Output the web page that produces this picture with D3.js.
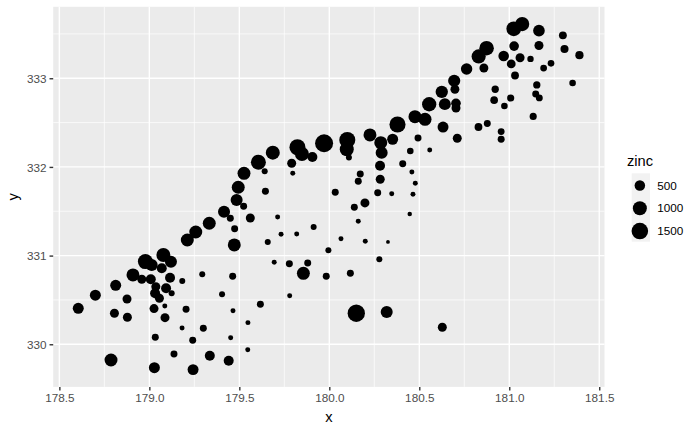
<!DOCTYPE html>
<html>

<head>
  <meta charset="utf-8" />
  <title>meuse zinc</title>
  <style>
    body {
      margin: 0;
      background: #fff;
    }

    text {
      font-family: "Liberation Sans", Arial, sans-serif;
    }
  </style>
  <script src="https://cdnjs.cloudflare.com/ajax/libs/d3/7.8.5/d3.min.js"></script>
</head>

<body>
  <div id="chartArea"></div>
  <script>
    // sample locations (km) and zinc concentration
    var xKm = [
      181.072, 181.025, 181.165, 181.298, 181.307, 181.390, 181.165, 181.027, 181.060, 181.232,
      181.191, 181.032, 180.874, 180.969, 181.011, 180.830, 180.763, 180.694, 180.625, 180.555,
      180.642, 180.704, 180.704, 181.153, 181.147, 181.167, 181.008, 180.973, 180.916, 181.352,
      181.133, 180.878, 180.829, 180.955, 180.922, 180.698, 180.859, 181.118, 180.955, 180.711,
      180.632, 180.493, 180.476, 180.532, 180.379, 180.450, 180.558, 180.408, 180.459, 180.226,
      180.286, 180.352, 180.291, 180.478, 180.465, 180.447, 180.282, 180.283, 180.269, 180.347,
      180.172, 180.161, 180.033, 180.198, 180.139, 180.161, 180.065, 180.200, 180.326, 179.995,
      180.278, 180.117, 179.983, 179.856, 179.880, 179.778, 179.694, 179.780, 179.617, 179.465,
      179.463, 179.472, 179.474, 179.561, 179.713, 179.658, 179.732, 179.819, 179.913, 179.645,
      179.524, 179.485, 179.494, 179.526, 179.641, 179.606, 179.686, 179.797, 179.791, 179.823,
      179.848, 179.906, 179.971, 180.100, 180.097, 180.109, 179.415, 179.450, 179.333, 179.258,
      179.211, 179.548, 179.452, 179.547, 179.441, 179.336, 179.243, 179.137, 179.028, 178.787,
      179.033, 179.182, 179.300, 179.241, 179.204, 179.087, 179.026, 179.086, 178.878, 178.806,
      178.605, 178.700, 178.813, 178.876, 178.909, 178.958, 178.978, 179.013, 179.008, 179.036,
      179.032, 179.056, 179.078, 179.069, 179.120, 179.115, 179.093, 179.124, 179.183, 179.294,
      179.404, 180.150, 180.319, 180.628
    ];
    var yKm = [
      333.611, 333.558, 333.537, 333.484, 333.330, 333.260, 333.370, 333.363, 333.231, 333.168,
      333.115, 333.031, 333.339, 333.252, 333.161, 333.246, 333.104, 332.972, 332.847, 332.707,
      332.708, 332.717, 332.664, 332.925, 332.823, 332.778, 332.777, 332.687, 332.753, 332.946,
      332.570, 332.489, 332.450, 332.399, 332.876, 332.876, 333.116, 333.218, 332.312, 332.323,
      332.450, 332.327, 332.567, 332.537, 332.479, 332.180, 332.191, 332.037, 331.943, 332.361,
      332.274, 332.312, 332.161, 331.816, 331.692, 331.469, 332.014, 331.861, 331.710, 331.698,
      331.921, 331.838, 331.714, 331.594, 331.545, 331.387, 331.191, 331.162, 331.154, 331.060,
      330.959, 330.800, 330.767, 330.800, 330.917, 330.909, 330.925, 330.548, 330.451, 330.379,
      330.767, 331.120, 331.304, 331.424, 331.435, 331.154, 331.240, 331.244, 331.323, 331.725,
      331.556, 331.627, 331.771, 331.928, 331.951, 332.053, 332.161, 331.928, 332.041, 332.222,
      332.146, 332.112, 332.267, 332.304, 332.200, 332.105, 331.495, 331.421, 331.365, 331.266,
      331.176, 330.244, 330.074, 329.939, 329.815, 329.871, 329.714, 329.891, 329.736, 329.823,
      330.079, 330.184, 330.180, 330.045, 330.395, 330.300, 330.402, 330.432, 330.305, 330.350,
      330.406, 330.553, 330.665, 330.511, 330.782, 330.733, 330.932, 330.894, 330.733, 330.650,
      330.575, 330.519, 331.007, 330.857, 330.930, 330.751, 330.632, 330.575, 330.714, 330.789,
      330.564, 330.350, 330.364, 330.192
    ];
    var zinc = [
      1022, 1141, 640, 257, 269, 281, 346, 406, 347, 183,
      189, 251, 1096, 504, 326, 1032, 606, 711, 735, 1052,
      673, 402, 343, 218, 200, 194, 207, 180, 240, 180,
      208, 198, 250, 192, 220, 340, 340, 170, 200, 340,
      555, 200, 830, 830, 1400, 180, 125, 200, 125, 830,
      830, 555, 690, 125, 125, 117, 441, 344, 200, 125,
      200, 200, 200, 344, 200, 125, 125, 125, 113, 155,
      155, 200, 200, 830, 200, 200, 125, 125, 200, 125,
      200, 830, 200, 344, 125, 155, 125, 125, 155, 200,
      200, 690, 830, 830, 155, 1185, 1000, 125, 344, 1385,
      1000, 441, 1839, 1400, 1000, 155, 690, 200, 830, 830,
      830, 125, 125, 125, 441, 441, 555, 200, 555, 830,
      200, 125, 200, 200, 200, 344, 344, 125, 344, 344,
      555, 555, 555, 344, 830, 344, 1185, 690, 441, 344,
      441, 344, 1000, 441, 690, 441, 441, 155, 155, 155,
      155, 1672, 690, 344
    ];

    var xTicks = [178.5, 179.0, 179.5, 180.0, 180.5, 181.0, 181.5];
    var yTicks = [330, 331, 332, 333];
    var sizeBreaks = [500, 1000, 1500];

    var w = 700,
      h = 432;
    var panel = { left: 53.2, right: 604.5, top: 6.8, bottom: 386.9 };

    var points = d3.range(xKm.length).map(function (i) {
      return { x: xKm[i], y: yKm[i], zinc: zinc[i] };
    });

    // 5% expansion on each side, like ggplot
    function expand(ext) {
      var pad = (ext[1] - ext[0]) * 0.05;
      return [ext[0] - pad, ext[1] + pad];
    }

    var xScale = d3.scaleLinear()
      .domain(expand(d3.extent(xKm)))
      .range([panel.left, panel.right]);

    var yScale = d3.scaleLinear()
      .domain(expand(d3.extent(yKm)))
      .range([panel.bottom, panel.top]);

    // area scale: size 1..6 (mm) on sqrt of rescaled value, diameter in px at 96 dpi
    var zRescale = d3.scaleLinear().domain(d3.extent(zinc)).range([0, 1]);
    var sizeScale = d3.scaleLinear().domain([0, 1]).range([1, 6]);
    function diam(z) {
      var s = sizeScale(Math.sqrt(Math.max(0, zRescale(z))));
      return s * 2.845 + 0.945;
    }

    var svg = d3.select('#chartArea').append('svg')
      .attr('width', w)
      .attr('height', h);

    svg.append('rect')
      .attr('width', w)
      .attr('height', h)
      .attr('fill', '#fff');

    svg.append('rect')
      .attr('x', panel.left)
      .attr('y', panel.top)
      .attr('width', panel.right - panel.left)
      .attr('height', panel.bottom - panel.top)
      .attr('fill', '#EBEBEB');

    // minor grid
    var xMinor = d3.range(178.25, 182, 0.5).filter(function (v) {
      var d = xScale.domain();
      return v > d[0] && v < d[1];
    });
    var yMinor = d3.range(329.5, 334, 1).filter(function (v) {
      var d = yScale.domain();
      return v > d[0] && v < d[1];
    });

    var grid = svg.append('g');
    grid.selectAll('.xminor')
      .data(xMinor)
      .enter()
      .append('line')
      .attr('x1', d => xScale(d))
      .attr('x2', d => xScale(d))
      .attr('y1', panel.top)
      .attr('y2', panel.bottom)
      .attr('stroke', '#fff')
      .attr('stroke-width', 0.7);
    grid.selectAll('.yminor')
      .data(yMinor)
      .enter()
      .append('line')
      .attr('y1', d => yScale(d))
      .attr('y2', d => yScale(d))
      .attr('x1', panel.left)
      .attr('x2', panel.right)
      .attr('stroke', '#fff')
      .attr('stroke-width', 0.7);
    grid.selectAll('.xmajor')
      .data(xTicks)
      .enter()
      .append('line')
      .attr('x1', d => xScale(d))
      .attr('x2', d => xScale(d))
      .attr('y1', panel.top)
      .attr('y2', panel.bottom)
      .attr('stroke', '#fff')
      .attr('stroke-width', 1.4);
    grid.selectAll('.ymajor')
      .data(yTicks)
      .enter()
      .append('line')
      .attr('y1', d => yScale(d))
      .attr('y2', d => yScale(d))
      .attr('x1', panel.left)
      .attr('x2', panel.right)
      .attr('stroke', '#fff')
      .attr('stroke-width', 1.4);

    // points
    svg.append('g')
      .selectAll('circle')
      .data(points)
      .enter()
      .append('circle')
      .attr('cx', d => xScale(d.x))
      .attr('cy', d => yScale(d.y))
      .attr('r', d => diam(d.zinc) / 2)
      .attr('fill', '#000');

    // axes
    var xAxis = d3.axisBottom(xScale)
      .tickValues(xTicks)
      .tickFormat(d3.format('.1f'))
      .tickSize(3.67)
      .tickPadding(2.9);
    var yAxis = d3.axisLeft(yScale)
      .tickValues(yTicks)
      .tickFormat(d3.format('d'))
      .tickSize(3.67)
      .tickPadding(2.9);

    var gx = svg.append('g')
      .attr('transform', 'translate(0,' + panel.bottom + ')')
      .call(xAxis);
    var gy = svg.append('g')
      .attr('transform', 'translate(' + panel.left + ',0)')
      .call(yAxis);

    [gx, gy].forEach(function (g) {
      g.select('.domain').remove();
      g.selectAll('line').attr('stroke', '#333333').attr('stroke-width', 1.4);
      g.selectAll('text')
        .attr('fill', '#4D4D4D')
        .style('font-size', '11.73px');
    });
    gy.selectAll('text').attr('dy', '0.35em');

    svg.append('text')
      .attr('x', (panel.left + panel.right) / 2)
      .attr('y', 421.5)
      .attr('text-anchor', 'middle')
      .style('font-size', '14.67px')
      .text('x');

    svg.append('text')
      .attr('transform', 'translate(18,' + (panel.top + panel.bottom) / 2 + ') rotate(-90)')
      .attr('text-anchor', 'middle')
      .style('font-size', '14.67px')
      .text('y');

    // legend
    var legend = svg.append('g');
    var keyX = 631.7,
      keyW = 18.3,
      keyTop = 173.3,
      keyH = 22.8;

    legend.append('text')
      .attr('x', 627)
      .attr('y', 166)
      .style('font-size', '14.67px')
      .text('zinc');

    legend.append('rect')
      .attr('x', keyX)
      .attr('y', keyTop)
      .attr('width', keyW)
      .attr('height', keyH * sizeBreaks.length)
      .attr('fill', '#F2F2F2');

    legend.selectAll('circle')
      .data(sizeBreaks)
      .enter()
      .append('circle')
      .attr('cx', keyX + keyW / 2 - 1)
      .attr('cy', (d, i) => keyTop + keyH * i + keyH / 2 + 0.8)
      .attr('r', d => diam(d) / 2)
      .attr('fill', '#000');

    legend.selectAll('.lab')
      .data(sizeBreaks)
      .enter()
      .append('text')
      .attr('x', 657.3)
      .attr('y', (d, i) => keyTop + keyH * i + keyH / 2 + 0.8)
      .attr('dy', '0.35em')
      .style('font-size', '11.73px')
      .text(d => d);
  </script>
</body>

</html>
